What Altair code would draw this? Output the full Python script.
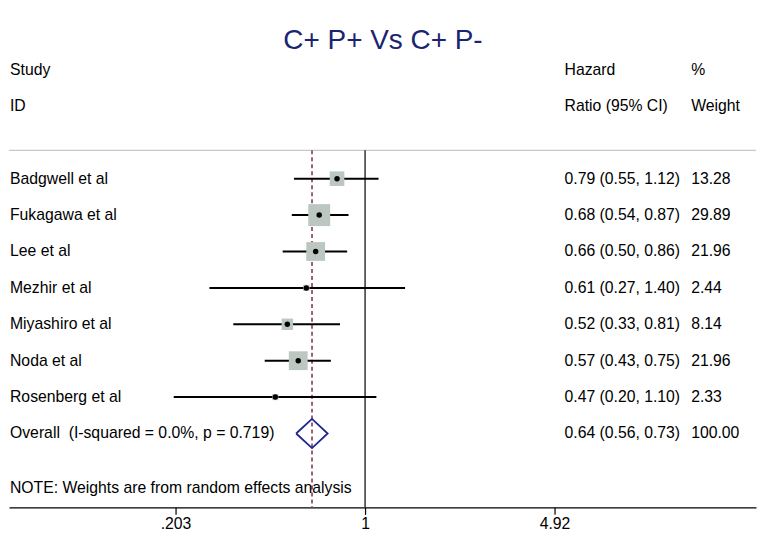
import altair as alt
import pandas as pd

studies = ["Badgwell et al", "Fukagawa et al", "Lee et al", "Mezhir et al",
           "Miyashiro et al", "Noda et al", "Rosenberg et al"]
hr = [0.79, 0.68, 0.66, 0.61, 0.52, 0.57, 0.47]
lo = [0.55, 0.54, 0.50, 0.27, 0.33, 0.43, 0.20]
hi = [1.12, 0.87, 0.86, 1.40, 0.81, 0.75, 1.10]
weights = [13.28, 29.89, 21.96, 2.44, 8.14, 21.96, 2.33]
overall = [0.64, 0.56, 0.73]
overall_label = "Overall\u00a0 (I-squared = 0.0%, p = 0.719)"
note = "NOTE: Weights are from random effects analysis"
tick_values = [0.203, 1, 4.92]
tick_labels = [".203", "1", "4.92"]

FONT = "Liberation Sans"
FS = 15.8
rows = list(range(3, 3 + len(studies)))

df = pd.DataFrame({
    "study": studies, "hr": hr, "lo": lo, "hi": hi, "w": weights, "row": rows,
    "ci": [f"{a:.2f} ({b:.2f}, {c:.2f})" for a, b, c in zip(hr, lo, hi)],
    "wt": [f"{w:.2f}" for w in weights],
})

W, H = 749, 500
xs = alt.Scale(type="log", domain=[0.05003, 26.8])
ys = alt.Scale(domain=[-1.671, 12.03], reverse=True)

label_expr = " : ".join(
    f"abs(datum.value - {v}) < 1e-6 ? '{l}'" for v, l in zip(tick_values, tick_labels)
) + " : ''"

xaxis = alt.Axis(values=tick_values, labelExpr=label_expr, grid=False, title=None,
                 domainColor="black", tickColor="black", tickSize=7,
                 labelFontSize=FS, labelFont=FONT, labelColor="black",
                 labelPadding=2, domainWidth=1.2, tickWidth=1.2)

base = alt.Chart(df)

axis_layer = alt.Chart(pd.DataFrame({"v": tick_values})).mark_point(opacity=0).encode(
    x=alt.X("v:Q", scale=xs, axis=xaxis),
    y=alt.value(H),
)

hline = alt.Chart(pd.DataFrame({"a": [0]})).mark_rule(color="#c8c8c8", strokeWidth=1.2).encode(
    x=alt.value(0), x2=alt.value(W), y=alt.value(142)
)

ref_line = alt.Chart(pd.DataFrame({"v": [1]})).mark_rule(color="black", strokeWidth=1.2).encode(
    x=alt.X("v:Q", scale=xs), y=alt.value(142), y2=alt.value(H)
)
est_line = alt.Chart(pd.DataFrame({"v": [overall[0]]})).mark_rule(
    color="#8e4a5c", strokeWidth=1.7, strokeDash=[4, 3]).encode(
    x=alt.X("v:Q", scale=xs), y=alt.value(142), y2=alt.value(H)
)

squares = base.mark_square(color="#bcc7c2", opacity=1).encode(
    x=alt.X("hr:Q", scale=xs),
    y=alt.Y("row:Q", scale=ys, axis=None),
    size=alt.Size("w:Q", scale=alt.Scale(domain=[0, 29.89], range=[0, 484]), legend=None),
)
ci = base.mark_rule(color="black", strokeWidth=2).encode(
    x=alt.X("lo:Q", scale=xs), x2="hi:Q",
    y=alt.Y("row:Q", scale=ys, axis=None),
)
dots = base.mark_circle(color="black", size=30, opacity=1).encode(
    x=alt.X("hr:Q", scale=xs),
    y=alt.Y("row:Q", scale=ys, axis=None),
)

diamond_df = pd.DataFrame({
    "x": [overall[1], overall[0], overall[2], overall[0], overall[1]],
    "y": [10, 9.6, 10, 10.4, 10],
    "o": [0, 1, 2, 3, 4],
})
diamond = alt.Chart(diamond_df).mark_line(color="#1f2590", strokeWidth=1.8).encode(
    x=alt.X("x:Q", scale=xs),
    y=alt.Y("y:Q", scale=ys, axis=None),
    order="o:O",
)

def txt(data, field, xpix):
    return alt.Chart(data).mark_text(align="left", baseline="middle", font=FONT,
                                     fontSize=FS, color="black").encode(
        x=alt.value(xpix),
        y=alt.Y("row:Q", scale=ys, axis=None),
        text=f"{field}:N",
    )

names = txt(df, "study", 1)
cis = txt(df, "ci", 557)
wts = txt(df, "wt", 684)

header = pd.DataFrame({
    "row": [0, 1, 0, 1, 0, 1, 10, 10, 10, 11.5],
    "t": ["Study", "ID", "Hazard", "Ratio (95% CI)", "%", "Weight",
          overall_label, f"{overall[0]:.2f} ({overall[1]:.2f}, {overall[2]:.2f})", "100.00", note],
    "xp": [1, 1, 557, 557, 684, 684, 1, 557, 684, 1],
})
header_text = alt.Chart(header).mark_text(align="left", baseline="middle", font=FONT,
                                          fontSize=FS, color="black").encode(
    x=alt.X("xp:Q", scale=None),
    y=alt.Y("row:Q", scale=ys, axis=None),
    text="t:N",
)

title = alt.Chart(pd.DataFrame({"t": ["C+ P+ Vs C+ P-"]})).mark_text(
    align="center", baseline="middle", font=FONT, fontSize=28, color="#1a2470").encode(
    x=alt.value(375), y=alt.value(32), text="t:N"
)

chart = alt.layer(
    axis_layer, hline, ref_line, est_line, ci, squares, dots, diamond,
    names, cis, wts, header_text, title
).properties(
    width=W, height=H, padding={"left": 0, "top": 0, "right": 0, "bottom": 0}
).configure_view(stroke=None)

chart.save("out.html", embed_options={"renderer": "svg", "actions": False})
